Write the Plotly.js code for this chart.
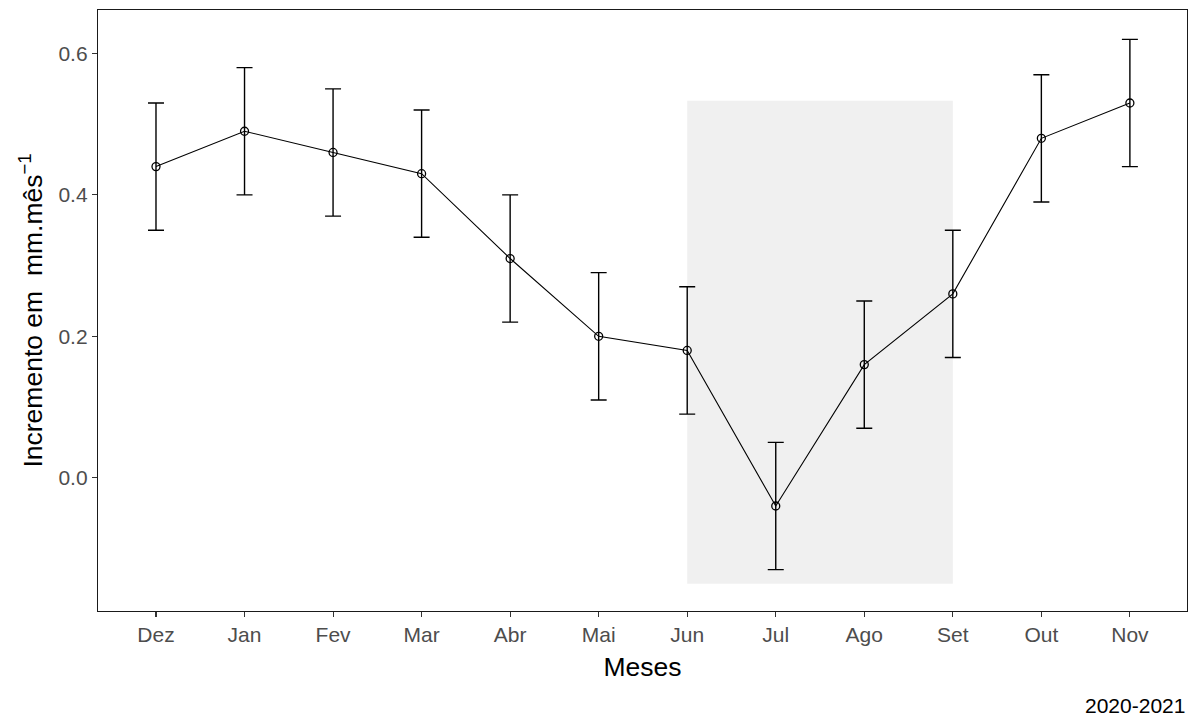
<!DOCTYPE html>
<html>
<head>
<meta charset="utf-8">
<script src="https://cdn.plot.ly/plotly-3.0.1.min.js"></script>
<style>html,body{margin:0;padding:0;background:#fff;}#chart{width:1188px;height:718px;}</style>
</head>
<body>
<div id="chart"></div>
<script>
var months = ["Dez","Jan","Fev","Mar","Abr","Mai","Jun","Jul","Ago","Set","Out","Nov"];
var increment = [0.44,0.49,0.46,0.43,0.31,0.20,0.18,-0.04,0.16,0.26,0.48,0.53];
var errorHalf = [0.09,0.09,0.09,0.09,0.09,0.09,0.09,0.09,0.09,0.09,0.09,0.09];
var shadeMonths = ["Jun","Set"];
var shadeY = [-0.15,0.533];
var yTicks = [0.0,0.2,0.4,0.6];
var yTickLabels = ["0.0","0.2","0.4","0.6"];
var caption = "2020-2021";

var F = "Liberation Sans, Arial, sans-serif";
var trace = {
  x: months, y: increment, type: "scatter", mode: "lines+markers",
  line: {color: "#000", width: 1.1},
  marker: {symbol: "circle-open", size: 8, color: "#000", line: {width: 1.3, color: "#000"}},
  error_y: {type: "data", array: errorHalf, visible: true, color: "#000", thickness: 1.4, width: 8},
  hoverinfo: "skip", showlegend: false
};
var layout = {
  width: 1188, height: 718,
  margin: {l: 98, r: 1, t: 10, b: 107},
  paper_bgcolor: "#fff", plot_bgcolor: "#fff",
  font: {family: F},
  xaxis: {
    type: "category", categoryarray: months, range: [-0.655, 11.645],
    showgrid: false, zeroline: false, showline: true, mirror: true,
    linecolor: "#1a1a1a", linewidth: 1.2,
    ticks: "outside", ticklen: 5, tickcolor: "#333", tickwidth: 1.1,
    tickfont: {size: 21, color: "#4d4d4d", family: F},
    title: {text: "Meses", font: {size: 26.5, color: "#000", family: F}, standoff: 12}
  },
  yaxis: {
    range: [-0.1885, 0.6615], tickvals: yTicks, ticktext: yTickLabels,
    showgrid: false, zeroline: false, showline: true, mirror: true,
    linecolor: "#1a1a1a", linewidth: 1.2,
    ticks: "outside", ticklen: 5, tickcolor: "#333", tickwidth: 1.1,
    tickfont: {size: 21, color: "#4d4d4d", family: F},
    title: {text: "Incremento em\u00a0 mm.mês<sup>−1</sup>", font: {size: 26.5, color: "#000", family: F}, standoff: 8}
  },
  shapes: [{
    type: "rect", xref: "x", yref: "y", layer: "below",
    x0: months.indexOf(shadeMonths[0]), x1: months.indexOf(shadeMonths[1]),
    y0: shadeY[0], y1: shadeY[1],
    fillcolor: "#f0f0f0", line: {width: 0}
  }],
  annotations: [{
    text: caption, xref: "paper", yref: "paper", x: 1, y: 0, yshift: -94,
    xanchor: "right", yanchor: "middle", showarrow: false,
    font: {size: 21, color: "#000", family: F}
  }]
};
Plotly.newPlot("chart", [trace], layout, {displayModeBar: false, staticPlot: true});
</script>
</body>
</html>
